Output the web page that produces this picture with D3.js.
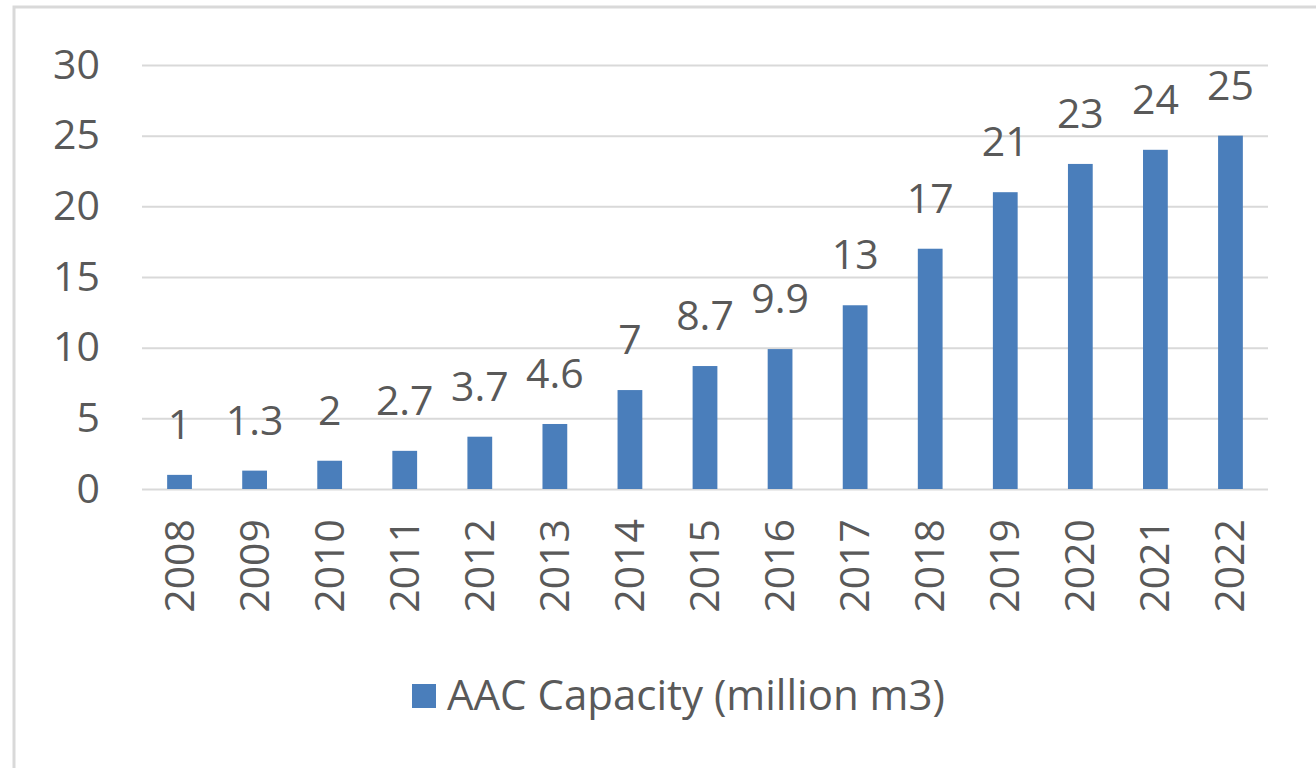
<!DOCTYPE html>
<html>
<head>
<meta charset="utf-8">
<script src="https://cdn.jsdelivr.net/npm/d3@7"></script>
<style>
  html, body { margin: 0; padding: 0; background: #fff; }
  svg { display: block; font-family: "Open Sans", sans-serif; }
</style>
</head>
<body>
<svg id="chart" width="1316" height="768"></svg>
<script>
const years = ["2008", "2009", "2010", "2011", "2012", "2013", "2014", "2015", "2016", "2017", "2018", "2019", "2020", "2021", "2022"];
const capacity = [1, 1.3, 2, 2.7, 3.7, 4.6, 7, 8.7, 9.9, 13, 17, 21, 23, 24, 25];
const yTicks = [0, 5, 10, 15, 20, 25, 30];
const seriesName = "AAC Capacity (million m3)";

const BAR = "#4a7ebb";
const TEXT = "#595959";
const GRID = "#d9d9d9";
const MARGIN = { top: 65, right: 48, bottom: 279, left: 142 };
const W = 1316, H = 768;

const svg = d3.select("#chart");

// frame of the chart area
svg.append("rect")
  .attr("x", 14).attr("y", 7)
  .attr("width", W + 20).attr("height", H + 20)
  .attr("fill", "none")
  .attr("stroke", GRID)
  .attr("stroke-width", 3);

const w = W - MARGIN.left - MARGIN.right;
const h = H - MARGIN.top - MARGIN.bottom;
const g = svg.append("g").attr("transform", `translate(${MARGIN.left},${MARGIN.top})`);

const x = d3.scaleBand().domain(years).range([0, w]).paddingInner(0.67).paddingOuter(0.335);
const y = d3.scaleLinear().domain([0, 30]).range([h, 0]);

// gridlines + y labels
const yAxis = g.append("g")
  .call(d3.axisLeft(y).tickValues(yTicks).tickSize(-w).tickPadding(42))
  .call((a) => a.select(".domain").remove());
yAxis.selectAll("line").attr("stroke", GRID).attr("stroke-width", 2);
yAxis.selectAll("text")
  .attr("fill", TEXT)
  .attr("font-size", 41)
  .attr("font-family", "Open Sans, sans-serif");

// bars
g.append("g").selectAll("rect")
  .data(capacity)
  .join("rect")
  .attr("x", (_d, i) => x(years[i]))
  .attr("y", (d) => y(d))
  .attr("width", x.bandwidth())
  .attr("height", (d) => h - y(d))
  .attr("fill", BAR);

// data labels
g.append("g").selectAll("text")
  .data(capacity)
  .join("text")
  .attr("x", (_d, i) => x(years[i]) + x.bandwidth() / 2)
  .attr("y", (d) => y(d) - 36)
  .attr("text-anchor", "middle")
  .attr("fill", TEXT)
  .attr("font-size", 41)
  .text((d) => d);

// x labels, rotated
const xAxis = g.append("g")
  .attr("transform", `translate(0,${h})`)
  .call(d3.axisBottom(x).tickSize(0).tickPadding(0));
xAxis.select(".domain").remove();
xAxis.selectAll("text")
  .attr("fill", TEXT)
  .attr("font-size", 41)
  .attr("font-family", "Open Sans, sans-serif")
  .attr("text-anchor", "end")
  .attr("dy", null)
  .attr("transform", "translate(14,30) rotate(-90)");

// legend
const leg = svg.append("g").attr("transform", "translate(412,684)");
leg.append("rect").attr("width", 24).attr("height", 24).attr("fill", BAR);
leg.append("text")
  .attr("x", 35).attr("y", 26)
  .attr("fill", TEXT)
  .attr("font-size", 42)
  .text(seriesName);
</script>
</body>
</html>
